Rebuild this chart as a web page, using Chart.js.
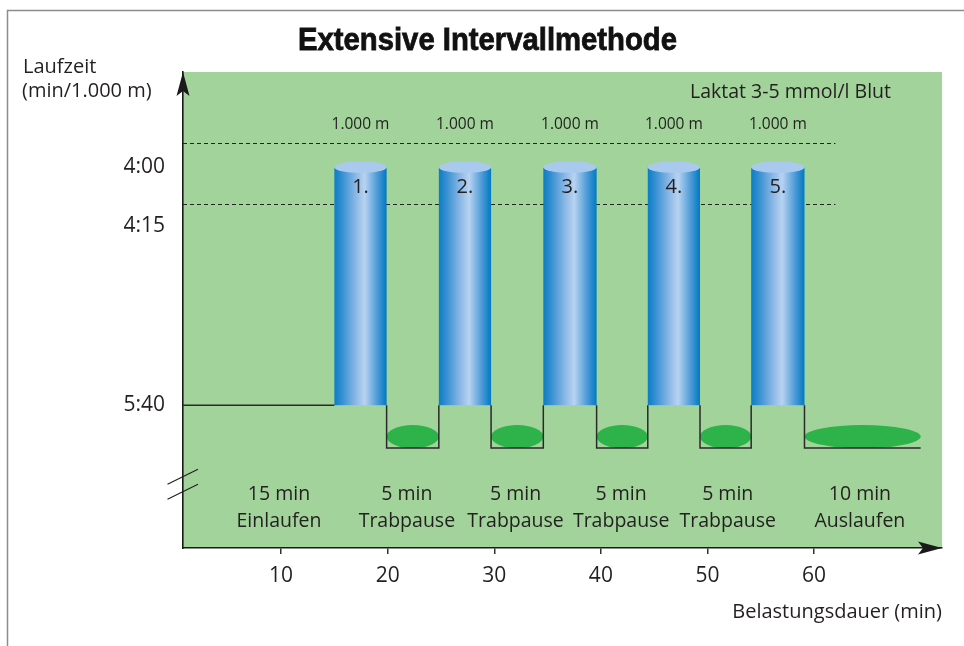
<!DOCTYPE html>
<html>
<head>
<meta charset="utf-8">
<script src="https://cdn.jsdelivr.net/npm/chart.js@4/dist/chart.umd.min.js"></script>
<style>
  html, body { margin: 0; padding: 0; background: #fff; }
  canvas { display: block; }
</style>
</head>
<body>
<canvas id="c" width="964" height="646"></canvas>
<script>
// Belastungsdauer (min): Beginn und Ende der fünf 1.000-m-Läufe
const intervalStart = [15.0, 24.8, 34.6, 44.4, 54.1];
const intervalEnd   = [19.9, 29.7, 39.6, 49.3, 59.1];
const intervalNames = ['1.', '2.', '3.', '4.', '5.'];
const intervalDistance = ['1.000 m', '1.000 m', '1.000 m', '1.000 m', '1.000 m'];
const cooldownEnd = 70.0;

// Laufzeit-Niveaus auf der schematischen Hochachse (0–100)
const levelRun  = 80;    // 4:00 min/1.000 m
const levelBase = 30;    // 5:40 min/1.000 m
const levelJog  = 21;    // Trabpause / Auslaufen
const lactateBand = [85, 72.2];
const lactateBandEnd = 62;

// Achsenbeschriftung
const yTickValues = [80, 67.6, 30];
const yTickLabels = ['4:00', '4:15', '5:40'];
const xTickValues = [10, 20, 30, 40, 50, 60];
const xTickLabels = ['10', '20', '30', '40', '50', '60'];

// Phasen unter der Kurve
const phaseDuration = ['15 min', '5 min', '5 min', '5 min', '5 min', '10 min'];
const phaseName     = ['Einlaufen', 'Trabpause', 'Trabpause', 'Trabpause', 'Trabpause', 'Auslaufen'];
const phaseCenter   = [9.8, 21.8, 32.0, 41.9, 51.9, 64.3];

const X_MIN = 0.8, X_MAX = 72.0;

const TEXT = '#231f20';
const FONT = '"Open Sans", "Noto Sans", sans-serif';

// Verlauf der Laufzeit: Einlaufen, dann Trabpausen zwischen den Läufen, Auslaufen
function buildPath() {
  const pts = [{ x: X_MIN, y: levelBase }, { x: intervalStart[0], y: levelBase }];
  for (let i = 0; i < intervalStart.length; i++) {
    pts.push({ x: (intervalStart[i] + intervalEnd[i]) / 2, y: null });
    const next = i + 1 < intervalStart.length ? intervalStart[i + 1] : cooldownEnd;
    pts.push({ x: intervalEnd[i], y: levelBase });
    pts.push({ x: intervalEnd[i], y: levelJog });
    pts.push({ x: next, y: levelJog });
    if (i + 1 < intervalStart.length) pts.push({ x: next, y: levelBase });
  }
  return pts;
}

function pauses() {
  return intervalEnd.map((e, i) => [e, i + 1 < intervalStart.length ? intervalStart[i + 1] : cooldownEnd]);
}

function text(ctx, str, x, y, size, align, weight, family) {
  ctx.save();
  ctx.font = (weight || '400') + ' ' + size + 'px ' + (family || FONT);
  ctx.fillStyle = TEXT;
  ctx.textAlign = align || 'center';
  ctx.textBaseline = 'middle';
  ctx.fillText(str, x, y);
  ctx.restore();
}

// Schmal gesetzte fette Überschrift
function condensedTitle(ctx, str, cx, baseline, size, width) {
  ctx.save();
  ctx.font = '700 ' + size + 'px "Liberation Sans", Arial, sans-serif';
  ctx.fillStyle = '#111';
  ctx.textAlign = 'center';
  ctx.textBaseline = 'alphabetic';
  const w = ctx.measureText(str).width;
  const k = Math.min(1, width / w);
  ctx.translate(cx, baseline);
  ctx.scale(k, 1);
  ctx.fillText(str, 0, 0);
  ctx.lineWidth = 0.8;
  ctx.strokeStyle = '#111';
  ctx.strokeText(str, 0, 0);
  ctx.restore();
}

const schema = {
  id: 'schema',
  beforeDraw(chart) {
    const { ctx, chartArea: a } = chart;
    ctx.save();
    ctx.fillStyle = '#fff';
    ctx.fillRect(0, 0, chart.width, chart.height);
    // Rahmen
    ctx.strokeStyle = '#8c8c8c';
    ctx.lineWidth = 1.5;
    ctx.beginPath();
    ctx.moveTo(7.5, chart.height);
    ctx.lineTo(7.5, 10.5);
    ctx.lineTo(chart.width, 10.5);
    ctx.stroke();
    // Diagrammfläche
    ctx.fillStyle = '#a1d39b';
    ctx.fillRect(a.left, a.top, a.right - a.left, a.bottom - a.top);
    ctx.restore();
  },
  beforeDatasetsDraw(chart) {
    const { ctx, scales: { x, y } } = chart;
    ctx.save();
    // Laktatbereich
    ctx.strokeStyle = '#222';
    ctx.lineWidth = 1.2;
    ctx.setLineDash([4, 3]);
    lactateBand.forEach(v => {
      const py = Math.round(y.getPixelForValue(v)) + 0.5;
      ctx.beginPath();
      ctx.moveTo(x.getPixelForValue(X_MIN), py);
      ctx.lineTo(x.getPixelForValue(lactateBandEnd), py);
      ctx.stroke();
    });
    ctx.setLineDash([]);
    // Trabphasen
    ctx.fillStyle = '#2eb24a';
    const floor = y.getPixelForValue(levelJog);
    pauses().forEach(([s, e]) => {
      const x0 = x.getPixelForValue(s), x1 = x.getPixelForValue(e);
      ctx.beginPath();
      ctx.ellipse((x0 + x1) / 2, floor - 11.5, (x1 - x0) / 2, 11.5, 0, 0, Math.PI * 2);
      ctx.fill();
    });
    // Laufintervalle als Zylinder
    const top = y.getPixelForValue(levelRun), bot = y.getPixelForValue(levelBase);
    intervalStart.forEach((s, i) => {
      const x0 = x.getPixelForValue(s), x1 = x.getPixelForValue(intervalEnd[i]);
      const g = ctx.createLinearGradient(x0, 0, x1, 0);
      g.addColorStop(0, '#0a7dc5');
      g.addColorStop(0.15, '#3790d1');
      g.addColorStop(0.42, '#8fb9e6');
      g.addColorStop(0.58, '#b8d3f1');
      g.addColorStop(0.82, '#4d9bd8');
      g.addColorStop(1, '#0079c2');
      ctx.fillStyle = g;
      ctx.fillRect(x0, top, x1 - x0, bot - top);
      ctx.beginPath();
      ctx.ellipse((x0 + x1) / 2, top, (x1 - x0) / 2, 5.8, 0, 0, Math.PI * 2);
      ctx.fillStyle = '#a9c9ee';
      ctx.fill();
    });
    ctx.restore();
  },
  afterDraw(chart) {
    const { ctx, chartArea: a, scales: { x, y } } = chart;
    ctx.save();
    ctx.fillStyle = '#1a1a1a';
    // Pfeil Hochachse
    ctx.beginPath();
    ctx.moveTo(a.left, a.top);
    ctx.lineTo(a.left + 6.5, a.top + 24);
    ctx.lineTo(a.left, a.top + 19);
    ctx.lineTo(a.left - 6.5, a.top + 24);
    ctx.closePath();
    ctx.fill();
    // Pfeil Zeitachse
    ctx.beginPath();
    ctx.moveTo(a.right, a.bottom);
    ctx.lineTo(a.right - 24, a.bottom - 6.5);
    ctx.lineTo(a.right - 19, a.bottom);
    ctx.lineTo(a.right - 24, a.bottom + 6.5);
    ctx.closePath();
    ctx.fill();
    // Achsenunterbrechung
    ctx.strokeStyle = '#222';
    ctx.lineWidth = 1.2;
    [476.8, 491.8].forEach(cy => {
      ctx.beginPath();
      ctx.moveTo(a.left - 15.5, cy + 7.5);
      ctx.lineTo(a.left + 15, cy - 7.5);
      ctx.stroke();
    });
    ctx.restore();

    // Titel
    condensedTitle(ctx, 'Extensive Intervallmethode', 487.5, 50, 32, 379);
    // Achsentitel
    text(ctx, 'Laufzeit', 23, 67, 20, 'left');
    text(ctx, '(min/1.000 m)', 22, 91, 20, 'left');
    text(ctx, 'Belastungsdauer (min)', a.right, 612, 20, 'right');
    text(ctx, 'Laktat 3-5 mmol/l Blut', 891, a.top + 20, 19.5, 'right');

    const top = y.getPixelForValue(levelRun);
    intervalStart.forEach((s, i) => {
      const cx = x.getPixelForValue((s + intervalEnd[i]) / 2);
      text(ctx, intervalDistance[i], cx, 125, 15.5, 'center');
      text(ctx, intervalNames[i], cx, top + 20, 20, 'center');
    });
    phaseCenter.forEach((m, i) => {
      const cx = x.getPixelForValue(m);
      text(ctx, phaseDuration[i], cx, 494.5, 19.5, 'center');
      text(ctx, phaseName[i], cx, 521, 19.5, 'center');
    });
  }
};

Chart.defaults.font.family = FONT;
Chart.defaults.color = TEXT;

new Chart(document.getElementById('c'), {
  type: 'line',
  data: {
    datasets: [{
      data: buildPath(),
      borderColor: '#2a2a2a',
      borderWidth: 1.5,
      pointRadius: 0,
      tension: 0,
      spanGaps: false,
      fill: false
    }]
  },
  options: {
    responsive: false,
    animation: false,
    devicePixelRatio: 1,
    layout: { padding: { left: 0, right: 22, top: 72, bottom: 0 } },
    plugins: { legend: { display: false }, tooltip: { enabled: false }, title: { display: false } },
    scales: {
      x: {
        type: 'linear',
        min: X_MIN,
        max: X_MAX,
        afterBuildTicks: s => { s.ticks = xTickValues.map(v => ({ value: v })); },
        afterFit: s => { s.height = 98; },
        ticks: {
          autoSkip: false,
          maxRotation: 0,
          padding: 9,
          font: { size: 21 },
          color: TEXT,
          callback: (v, i) => xTickLabels[i]
        },
        grid: { drawOnChartArea: false, drawTicks: true, tickLength: 6, color: '#333', lineWidth: 1.5 },
        border: { display: true, color: '#1a1a1a', width: 1.6 }
      },
      y: {
        type: 'linear',
        min: 0,
        max: 100,
        afterBuildTicks: s => { s.ticks = yTickValues.map(v => ({ value: v })); },
        afterFit: s => { s.width = 183; },
        ticks: {
          autoSkip: false,
          padding: 18,
          font: { size: 21 },
          color: TEXT,
          callback: (v, i) => yTickLabels[i]
        },
        grid: { display: false, drawTicks: false },
        border: { display: true, color: '#1a1a1a', width: 1.6 }
      }
    }
  },
  plugins: [schema]
});
</script>
</body>
</html>
